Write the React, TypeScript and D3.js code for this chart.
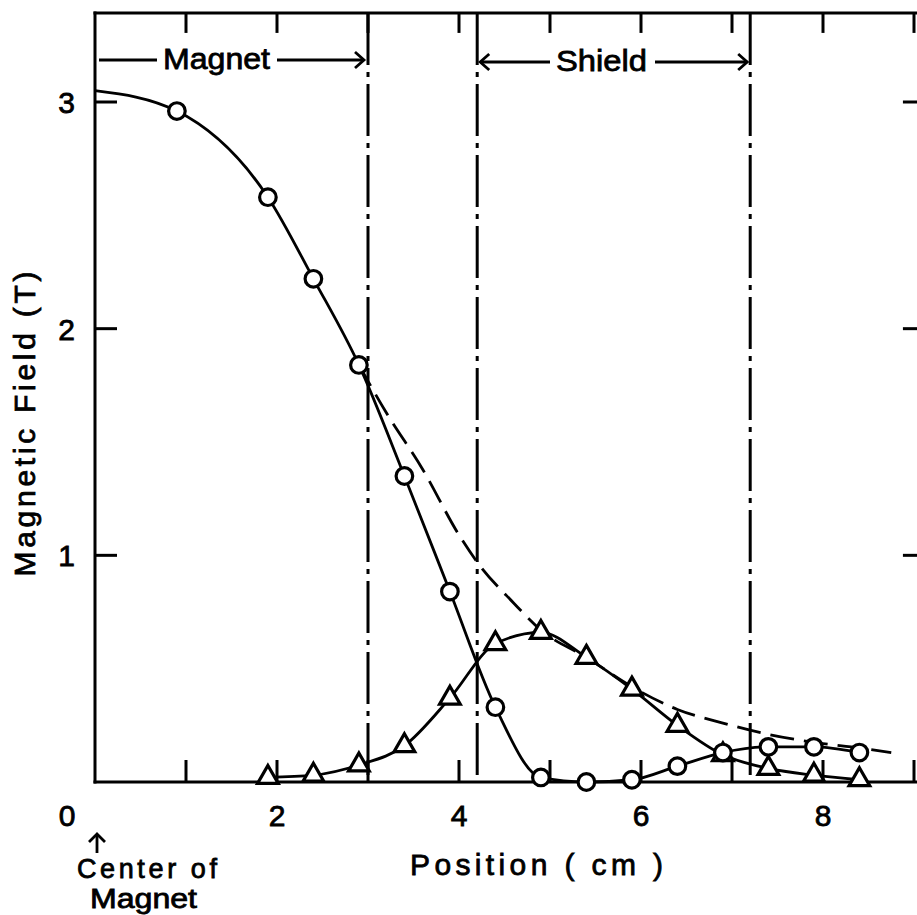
import React from "react";
import * as d3 from "d3";

// ---- data ----
const circleX = [0.9, 1.9, 2.4, 2.9, 3.4, 3.9, 4.4, 4.9, 5.4, 5.9, 6.4, 6.9, 7.4, 7.9, 8.4];
const circleY = [2.96, 2.58, 2.22, 1.84, 1.35, 0.84, 0.33, 0.02, 0.0, 0.01, 0.07, 0.13, 0.155, 0.155, 0.13];
const circleCurveStart = [0, 3.05];

const triangleX = [1.9, 2.4, 2.9, 3.4, 3.9, 4.4, 4.9, 5.4, 5.9, 6.4, 6.9, 7.4, 7.9, 8.4];
const triangleY = [0.02, 0.03, 0.075, 0.16, 0.37, 0.61, 0.66, 0.55, 0.41, 0.25, 0.12, 0.06, 0.03, 0.01];

const dashedX = [2.9, 3.2, 3.6, 4.0, 4.2, 4.6, 4.9, 5.4, 5.9, 6.4, 6.9, 7.4, 7.9, 8.4, 8.75];
const dashedY = [1.84, 1.63, 1.38, 1.09, 0.97, 0.79, 0.67, 0.55, 0.42, 0.32, 0.26, 0.21, 0.175, 0.15, 0.13];

const boundaryX = [3.0, 4.2, 7.2];
const xTicks = [1, 2, 3, 4, 5, 6, 7, 8, 9];
const xTickLabels = [0, 2, 4, 6, 8];
const yTicks = [1, 2, 3];

const FONT = "'Liberation Sans', Arial, sans-serif";

export default function App() {
  const W = 917;
  const H = 915;
  const x = d3.scaleLinear().domain([0, 9]).range([95, 914]);
  const y = d3.scaleLinear().domain([0, 3]).range([782, 102]);
  const left = x(0);
  const right = x(9.12);
  const top = y(3.393);
  const bottom = y(0);

  const line = d3
    .line<[number, number]>()
    .x((d) => x(d[0]))
    .y((d) => y(d[1]))
    .curve(d3.curveMonotoneX);

  const circlePts: [number, number][] = [
    [circleCurveStart[0], circleCurveStart[1]],
    ...circleX.map((v, i) => [v, circleY[i]] as [number, number]),
  ];
  const triPts: [number, number][] = triangleX.map((v, i) => [v, triangleY[i]]);
  const dashPts: [number, number][] = dashedX.map((v, i) => [v, dashedY[i]]);

  const tri = d3.symbol().type(d3.symbolTriangle).size(185)() as string;

  const chevron = (tx: number, ty: number, dir: number) =>
    `M${tx - dir * 9},${ty - 8} L${tx},${ty} L${tx - dir * 9},${ty + 8}`;

  const magnetArrowY = 60;
  const shieldArrowY = 62;

  const textStyle = { stroke: "#000", strokeWidth: 0.8 };

  return (
    <svg
      width={W}
      height={H}
      style={{ position: "absolute", left: 0, top: 0, background: "#fff" }}
      fontFamily={FONT}
    >
      <rect x={0} y={0} width={W} height={H} fill="#fff" />

      {/* frame */}
      <g stroke="#000" strokeWidth={3} fill="none" strokeLinecap="square">
        <line x1={left} y1={top} x2={right} y2={top} />
        <line x1={left} y1={top} x2={left} y2={bottom} />
        <line x1={left} y1={bottom} x2={right} y2={bottom} />
        <line x1={right} y1={top} x2={right} y2={bottom} />
      </g>

      {/* ticks */}
      <g stroke="#000" strokeWidth={3}>
        {xTicks.map((t) => (
          <g key={"xt" + t}>
            <line x1={x(t)} x2={x(t)} y1={bottom} y2={bottom - 22} />
            <line x1={x(t)} x2={x(t)} y1={top} y2={top + 20} />
          </g>
        ))}
        {yTicks.map((t) => (
          <g key={"yt" + t}>
            <line x1={left} x2={left + 22} y1={y(t)} y2={y(t)} />
            <line x1={right} x2={right - 22} y1={y(t)} y2={y(t)} />
          </g>
        ))}
      </g>

      {/* tick labels */}
      <g fontSize={30} fill="#000" style={textStyle}>
        {xTickLabels.map((t) => (
          <text key={"xl" + t} x={t === 0 ? x(t) - 28 : x(t)} y={826} textAnchor="middle">
            {t}
          </text>
        ))}
        {yTicks.map((t) => (
          <text key={"yl" + t} x={75} y={y(t) + 11} textAnchor="end">
            {t}
          </text>
        ))}
      </g>

      {/* boundary dash-dot lines */}
      <g stroke="#000" strokeWidth={3} strokeDasharray="52,7,5,7">
        {boundaryX.map((b) => (
          <line key={"b" + b} x1={x(b)} x2={x(b)} y1={top} y2={bottom} />
        ))}
      </g>

      {/* curves */}
      <path d={line(dashPts) || ""} fill="none" stroke="#000" strokeWidth={2.8} strokeDasharray="24,10" />
      <path d={line(circlePts) || ""} fill="none" stroke="#000" strokeWidth={2.8} />
      <path d={line(triPts) || ""} fill="none" stroke="#000" strokeWidth={2.8} />

      {/* markers */}
      <g fill="#fff" stroke="#000" strokeWidth={3.2}>
        {triPts.map((p, i) => (
          <path key={"tr" + i} d={tri} transform={`translate(${x(p[0])},${y(p[1])})`} />
        ))}
        {circleX.map((v, i) => (
          <circle key={"c" + i} cx={x(v)} cy={y(circleY[i])} r={8.3} />
        ))}
      </g>

      {/* Magnet / Shield annotations */}
      <g stroke="#000" strokeWidth={2.8} fill="none">
        <line x1={left + 4} x2={157} y1={magnetArrowY} y2={magnetArrowY} />
        <line x1={277} x2={x(3.0) - 4} y1={magnetArrowY} y2={magnetArrowY} />
        <path d={chevron(x(3.0) - 4, magnetArrowY, 1)} />
        <line x1={x(4.2) + 3} x2={550} y1={shieldArrowY} y2={shieldArrowY} />
        <path d={chevron(x(4.2) + 3, shieldArrowY, -1)} />
        <line x1={655} x2={x(7.2) - 3} y1={shieldArrowY} y2={shieldArrowY} />
        <path d={chevron(x(7.2) - 3, shieldArrowY, 1)} />
      </g>
      <g fontSize={30} fill="#000" style={textStyle}>
        <text x={163} y={69} textLength={107} lengthAdjust="spacingAndGlyphs">Magnet</text>
        <text x={556} y={71} textLength={91} lengthAdjust="spacingAndGlyphs">Shield</text>
        <text x={410} y={875} textLength={253} lengthAdjust="spacing">Position ( cm )</text>
        <text
          transform="translate(35,424) rotate(-90)"
          textAnchor="middle"
          textLength={305}
          lengthAdjust="spacing"
        >
          Magnetic Field  (T)
        </text>
      </g>
      <g fontSize={27} fill="#000" style={textStyle}>
        <text x={77} y={878} textLength={140} lengthAdjust="spacing">Center of</text>
        <text x={90} y={908} textLength={107} lengthAdjust="spacingAndGlyphs">Magnet</text>
      </g>

      {/* Center of magnet arrow */}
      <g stroke="#000" strokeWidth={2.8} fill="none">
        <line x1={97} x2={97} y1={834} y2={853} />
        <path d="M89,842 L97,834 L105,842" />
      </g>
    </svg>
  );
}
